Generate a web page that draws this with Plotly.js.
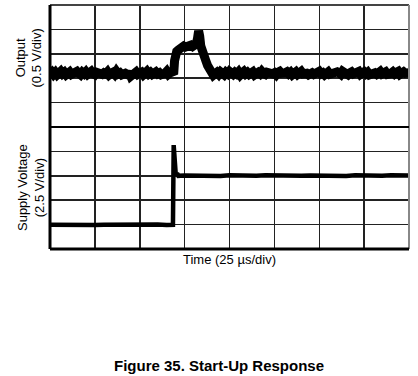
<!DOCTYPE html>
<html>
<head>
<meta charset="utf-8">
<script src="https://cdn.plot.ly/plotly-3.0.1.min.js"></script>
<style>html,body{margin:0;padding:0;background:#fff;}#chart{width:418px;height:376px;}</style>
</head>
<body>
<div id="chart"></div>
<script>
// Time in microseconds (25 us/div, 8 div)
var outputTime = [
  0,1,2,3,4,5,6,7,8,9,10,11,12,13,14,15,16,17,18,19,
  20,21,22,23,24,25,26,27,28,29,30,31,32,33,34,35,36,37,38,39,
  40,41,42,43,44,45,46,47,48,49,50,51,52,53,54,55,56,57,58,59,
  60,61,62,63,64,65,66,67,68,
  69.0,69.4,69.9,70.6,71.5,72.5,73.5,74.5,75.5,76.5,77.5,78.5,79.5,80.5,81.5,82.2,82.8,83.4,84.0,84.8,85.8,86.8,87.8,88.8,89.6,
  90,91,92,93,94,95,96,97,98,99,
  100,101,102,103,104,105,106,107,108,109,
  110,111,112,113,114,115,116,117,118,119,
  120,121,122,123,124,125,126,127,128,129,
  130,131,132,133,134,135,136,137,138,139,
  140,141,142,143,144,145,146,147,148,149,
  150,151,152,153,154,155,156,157,158,159,
  160,161,162,163,164,165,166,167,168,169,
  170,171,172,173,174,175,176,177,178,179,
  180,181,182,183,184,185,186,187,188,189,
  190,191,192,193,194,195,196,197,198,199,200];
// Output voltage (V, 0.5 V/div)
var outputVolts = [
  1.10,1.13,1.08,1.12,1.07,1.11,1.14,1.09,1.12,1.07,1.10,1.13,1.08,1.11,1.09,1.14,1.10,1.07,1.12,1.09,
  1.13,1.08,1.11,1.14,1.09,1.07,1.12,1.10,1.13,1.08,1.11,1.09,1.13,1.07,1.10,1.12,1.08,1.14,1.09,1.11,
  1.07,1.12,1.10,1.08,1.13,1.04,1.06,1.11,1.13,1.08,1.10,1.12,1.07,1.11,1.14,1.09,1.12,1.08,1.10,1.13,
  1.09,1.11,1.07,1.12,1.10,1.14,1.08,1.11,1.12,
  1.14,1.36,1.50,1.55,1.58,1.61,1.63,1.66,1.64,1.67,1.65,1.68,1.65,1.67,1.70,1.82,1.97,1.86,1.66,1.52,1.45,1.36,1.26,1.18,1.12,
  1.08,1.06,1.09,1.12,1.08,1.13,1.10,1.07,1.12,1.09,
  1.14,1.10,1.08,1.12,1.09,1.13,1.07,1.11,1.14,1.09,
  1.12,1.08,1.11,1.13,1.07,1.10,1.12,1.09,1.14,1.10,
  1.08,1.12,1.10,1.13,1.09,1.11,1.07,1.12,1.14,1.10,
  1.08,1.11,1.13,1.09,1.12,1.07,1.10,1.13,1.08,1.11,
  1.14,1.09,1.12,1.10,1.07,1.13,1.11,1.08,1.12,1.10,
  1.14,1.09,1.11,1.07,1.12,1.13,1.08,1.10,1.12,1.09,
  1.13,1.11,1.08,1.14,1.10,1.12,1.07,1.11,1.13,1.09,
  1.12,1.10,1.14,1.08,1.11,1.13,1.09,1.12,1.07,1.10,
  1.13,1.11,1.08,1.12,1.14,1.09,1.11,1.13,1.08,1.12,
  1.10,1.13,1.09,1.12,1.14,1.08,1.11,1.13,1.10,1.12,1.11];

var supplyTime = [0,5,10,15,20,25,30,35,40,45,50,55,60,65,68.5,68.9,69.6,70.1,70.8,71.5,75,80,85,90,95,100,105,110,115,120,125,130,135,140,145,150,155,160,165,170,175,180,185,190,195,200];
// Supply voltage (V, 2.5 V/div)
var supplyVolts = [2.48,2.46,2.50,2.47,2.49,2.46,2.48,2.50,2.47,2.49,2.46,2.48,2.50,2.47,2.48,10.65,8.2,7.55,7.75,7.5,7.54,7.50,7.56,7.52,7.49,7.55,7.51,7.54,7.50,7.56,7.52,7.49,7.55,7.51,7.53,7.50,7.56,7.52,7.49,7.55,7.51,7.54,7.50,7.56,7.52,7.53];

var xLabel = 'Time (25 µs/div)';
var yLabelTop = 'Output<br>(0.5 V/div)';
var yLabelBottom = 'Supply Voltage<br>(2.5 V/div)';
var figTitle = 'Figure 35. Start-Up Response';

var FONT = 'Liberation Sans, Arial, Helvetica, sans-serif';

var traces = [
  {x: outputTime, y: outputVolts, xaxis: 'x', yaxis: 'y', mode: 'lines',
   line: {color: '#000', width: 9}, hoverinfo: 'skip'},
  {x: supplyTime, y: supplyVolts, xaxis: 'x', yaxis: 'y2', mode: 'lines',
   line: {color: '#000', width: 4.5}, hoverinfo: 'skip'}
];

var gridStyle = {showgrid: true, gridcolor: '#222', gridwidth: 1.5, zeroline: false,
  showticklabels: false, ticks: '', showline: false, fixedrange: true};

var layout = {
  width: 418, height: 376,
  margin: {l: 50, r: 9, t: 5, b: 127},
  paper_bgcolor: '#fff', plot_bgcolor: '#fff',
  showlegend: false,
  font: {family: FONT, color: '#000', size: 13},
  xaxis: Object.assign({}, gridStyle, {range: [0, 200], dtick: 25, tick0: 0, anchor: 'y2'}),
  yaxis: Object.assign({}, gridStyle, {range: [0, 2.5], dtick: 0.5, tick0: 0, domain: [0.5, 1]}),
  yaxis2: Object.assign({}, gridStyle, {range: [0, 12.5], dtick: 2.5, tick0: 0, domain: [0, 0.5]}),
  title: {text: '<b>' + figTitle + '</b>', font: {family: FONT, size: 15, color: '#000'},
          xref: 'container', yref: 'container', x: 0.524, y: 0.026, xanchor: 'center', yanchor: 'middle'},
  annotations: [
    {text: yLabelTop, xref: 'paper', yref: 'paper', x: -0.0598, y: 0.783, xanchor: 'center', yanchor: 'middle',
     textangle: -90, showarrow: false, font: {family: FONT, size: 13, color: '#000'}},
    {text: yLabelBottom, xref: 'paper', yref: 'paper', x: -0.0529, y: 0.25, xanchor: 'center', yanchor: 'middle',
     textangle: -90, showarrow: false, font: {family: FONT, size: 13, color: '#000'}},
    {text: xLabel, xref: 'paper', yref: 'paper', x: 0.5, y: -0.045, xanchor: 'center', yanchor: 'middle',
     showarrow: false, font: {family: FONT, size: 13, color: '#000'}}
  ],
  shapes: [
    {type: 'line', xref: 'paper', yref: 'paper', x0: 0, x1: 1, y0: 1, y1: 1, line: {color: '#444', width: 2}},
    {type: 'line', xref: 'paper', yref: 'paper', x0: 1, x1: 1, y0: 0, y1: 1, line: {color: '#888', width: 2}},
    {type: 'line', xref: 'paper', yref: 'paper', x0: 0, x1: 1, y0: 0.5, y1: 0.5, line: {color: '#000', width: 2}},
    {type: 'line', xref: 'paper', yref: 'paper', x0: 0, x1: 0, y0: 0, y1: 1, line: {color: '#000', width: 3}},
    {type: 'line', xref: 'paper', yref: 'paper', x0: 0, x1: 1, y0: 0, y1: 0, line: {color: '#000', width: 3}}
  ]
};

Plotly.newPlot('chart', traces, layout, {displayModeBar: false, staticPlot: true});
</script>
</body>
</html>
